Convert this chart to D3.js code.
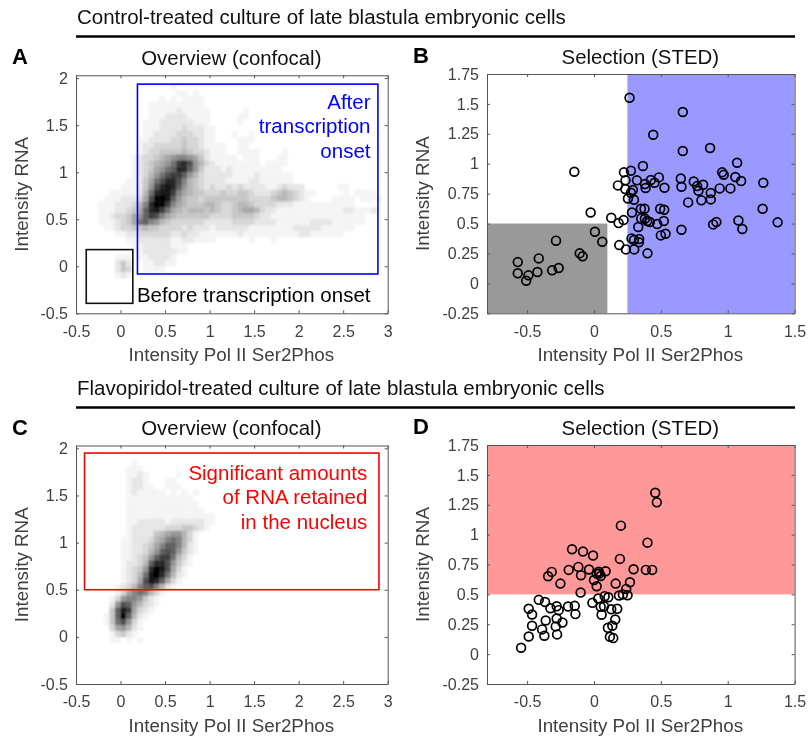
<!DOCTYPE html>
<html>
<head>
<meta charset="utf-8">
<script src="https://cdn.jsdelivr.net/npm/d3@7"></script>
<style>
  html, body { margin: 0; padding: 0; background: #fff; }
  svg { display: block; font-family: "Liberation Sans", Arial, sans-serif; filter: blur(0.3px); }
  .axis path, .axis line { stroke: #555; stroke-width: 1; }
  .axis text { font-size: 16px; fill: #404040; font-family: "Liberation Sans", Arial, sans-serif; }
  .ax-label { font-size: 18.8px; fill: #404040; text-anchor: middle; }
  .sub-title { font-size: 20.4px; fill: #111; text-anchor: middle; }
  .head { font-size: 20.5px; fill: #111; }
  .letter { font-size: 22px; font-weight: bold; fill: #000; }
</style>
</head>
<body>
<div id="chart"></div>
<script>
// heatmap rows, top row first. one char per bin, '.' = empty, f = black
const binSize = 0.0625;

const densityControl = [
  '',
  '.................1',
  '..................11.1',
  '...............1.1.1111',
  '.............1111111111',
  '.............11111211111......1',
  '.............11122221111.....11',
  '............111222222111.....1',
  '............1112222322211',
  '............1122223332211...1..1',
  '...........11222233433211....111',
  '...........1223333343321111..11',
  '...........1233444454332111..1111....1',
  '..........1233456788764211111.111...11',
  '..........12345679cdb753211111111.1111',
  '..........1234679adda7422212111111111',
  '..........123579bcca7532222211112111111',
  '.........112469bddb85432222111122111111',
  '........111247bdeda7543232232322221123222......11',
  '......11111259deec8654433343344322234543211.....1.1111',
  '.....11122236bffea754434444444433334554321....1111.1111',
  '....111222358dffc865444554334554333322211111111111',
  '....11122346adec96545554543345665322111111111111221112',
  '....11233467acb8654444443333444432211111111111111111',
  '....11123469a875433333322222333322221111112222111111',
  '.....112334454433332322212222221111111122222111111',
  '.......11223333332232211111112111111111122111111',
  '.........1122222211221111......1...1',
  '..........1122222111',
  '...........122222211',
  '.......111.1122221',
  '.......242..112211',
  '.......243..1111',
  '.......121',
  '',
  '',
  '',
  '',
  '',
  ''
];

const densityFlavo = [
  '',
  '',
  '..........1',
  '.........111',
  '.........1121.....1',
  '.........1221...11',
  '.........12211..111',
  '.........1211111.1.1.1',
  '.........111111111111',
  '.........1111111111111',
  '.........11111111111111',
  '.........1111111111111111',
  '.........1122222122222211',
  '.........122222233344321',
  '.........1222245677531',
  '........11222356898531',
  '........11223468aa8521',
  '........1122357aba7421',
  '........112347acc9531',
  '........12235addb7421',
  '........12347dfeb631',
  '........12359efd9521',
  '........1236beda631',
  '.......12358ab8521',
  '.......136898531',
  '......137887421',
  '......27ba75321',
  '......4aec6321',
  '.....14afa521',
  '.....149b731',
  '......367521',
  '......13421',
  '......11.1.1',
  '',
  '',
  '',
  '',
  '',
  '',
  ''
];

const selectionX_B = [0.266, 0.664, 0.443, 0.664, 0.868, 1.07, -0.147, 0.366, 0.276, 0.224, 0.236, 0.179, 0.234, 0.291, 0.276, 0.254, 0.299, 0.321, 0.381, 0.386, 0.425, 0.453, 0.485, 0.527, 0.649, 0.654, 0.746, 0.771, 0.816, 0.781, 0.873, 0.704, 0.803, 0.873, 0.94, 1.02, 0.958, 0.97, 1.057, 1.1, 1.266, 1.261, 1.373, 1.08, 1.109, 0.915, 0.891, 0.654, 0.495, 0.525, 0.351, 0.378, 0.284, -0.025, 0.129, 0.221, 0.184, 0.353, 0.381, 0.398, 0.418, 0.473, 0.522, 0.331, 0.5, 0.535, 0.281, 0.299, 0.338, 0.336, 0.189, 0.239, 0.301, 0.4, 0.007, 0.062, -0.284, -0.413, -0.57, -0.57, -0.49, -0.507, -0.423, -0.313, -0.264, -0.107, -0.085];
const selectionY_B = [1.552, 1.432, 1.242, 1.106, 1.131, 1.008, 0.933, 0.981, 0.942, 0.928, 0.861, 0.819, 0.788, 0.78, 0.758, 0.71, 0.699, 0.861, 0.83, 0.797, 0.864, 0.841, 0.886, 0.799, 0.877, 0.808, 0.852, 0.813, 0.825, 0.774, 0.755, 0.677, 0.694, 0.702, 0.794, 0.794, 0.928, 0.908, 0.889, 0.855, 0.841, 0.624, 0.51, 0.526, 0.454, 0.513, 0.493, 0.448, 0.624, 0.616, 0.624, 0.624, 0.593, 0.593, 0.549, 0.529, 0.504, 0.543, 0.54, 0.521, 0.513, 0.496, 0.521, 0.471, 0.401, 0.415, 0.376, 0.362, 0.37, 0.343, 0.32, 0.284, 0.284, 0.251, 0.432, 0.348, 0.357, 0.209, 0.178, 0.084, 0.067, 0.022, 0.095, 0.109, 0.128, 0.251, 0.226];

const selectionX_D = [0.458, 0.47, 0.201, 0.4, -0.164, -0.082, -0.007, 0.194, -0.316, -0.343, -0.251, -0.189, -0.117, -0.097, -0.037, -0.1, 0, 0.02, 0.035, 0.02, 0.05, 0.087, 0.04, 0.162, 0.296, 0.388, 0.435, 0.269, 0.241, 0.187, 0.216, 0.251, 0.08, 0.107, 0.032, -0.012, 0.05, 0.075, 0.057, 0.129, 0.174, 0.159, 0.137, 0.104, 0.119, 0.144, -0.413, -0.366, -0.488, -0.463, -0.326, -0.279, -0.264, -0.194, -0.144, -0.139, -0.361, -0.279, -0.236, -0.463, -0.286, -0.388, -0.371, -0.276, -0.488, -0.545];
const selectionY_D = [1.351, 1.27, 1.075, 0.933, 0.878, 0.858, 0.825, 0.797, 0.688, 0.652, 0.59, 0.705, 0.73, 0.66, 0.708, 0.515, 0.62, 0.674, 0.69, 0.568, 0.654, 0.694, 0.674, 0.59, 0.71, 0.705, 0.705, 0.602, 0.546, 0.49, 0.5, 0.493, 0.485, 0.476, 0.466, 0.429, 0.396, 0.4, 0.329, 0.376, 0.379, 0.29, 0.237, 0.22, 0.145, 0.134, 0.454, 0.436, 0.38, 0.332, 0.384, 0.4, 0.368, 0.398, 0.404, 0.335, 0.282, 0.298, 0.265, 0.237, 0.232, 0.207, 0.154, 0.165, 0.148, 0.053];

const overviewXTicks = [-0.5, 0, 0.5, 1, 1.5, 2, 2.5, 3];
const overviewYTicks = [-0.5, 0, 0.5, 1, 1.5, 2];
const selectionXTicks = [-0.5, 0, 0.5, 1, 1.5];
const selectionYTicks = [-0.25, 0, 0.25, 0.5, 0.75, 1, 1.25, 1.5, 1.75];

const xLabel = 'Intensity Pol II Ser2Phos';
const yLabel = 'Intensity RNA';

let svg = d3.select('#chart').append('svg').attr('width', 808).attr('height', 738);

let defs = svg.append('defs');
defs.append('filter')
  .attr('id', 'soft')
  .attr('x', '-5%').attr('y', '-5%').attr('width', '110%').attr('height', '110%')
  .append('feGaussianBlur')
  .attr('stdDeviation', 0.9);

function header(text, baseline) {
  svg.append('text').attr('class', 'head').attr('x', 77).attr('y', baseline).text(text);
  svg.append('line')
    .attr('x1', 76).attr('x2', 795)
    .attr('y1', baseline + 12.5).attr('y2', baseline + 12.5)
    .attr('stroke', '#000').attr('stroke-width', 2.6);
}

function makeAxes(g, x, y, xTicks, yTicks, width, height) {
  g.append('g').attr('class', 'axis')
    .attr('transform', `translate(0,${height})`)
    .call(d3.axisBottom(x).tickValues(xTicks).tickFormat(String).tickSizeInner(-3).tickSizeOuter(0).tickPadding(12));
  g.append('g').attr('class', 'axis')
    .call(d3.axisTop(x).tickValues(xTicks).tickFormat('').tickSizeInner(-3).tickSizeOuter(0));
  g.append('g').attr('class', 'axis')
    .call(d3.axisLeft(y).tickValues(yTicks).tickFormat(String).tickSizeInner(-3).tickSizeOuter(0).tickPadding(8));
  g.append('g').attr('class', 'axis')
    .attr('transform', `translate(${width},0)`)
    .call(d3.axisRight(y).tickValues(yTicks).tickFormat('').tickSizeInner(-3).tickSizeOuter(0));
}

function labels(p, title, letter) {
  svg.append('text').attr('class', 'letter').attr('x', p.letterX).attr('y', p.top - 11).text(letter);
  svg.append('text').attr('class', 'sub-title').attr('x', p.left + p.width / 2 - 0.5).attr('y', p.top - 10.5).text(title);
  svg.append('text').attr('class', 'ax-label').attr('x', p.left + p.width / 2 - 0.5).attr('y', p.top + p.height + 48).text(xLabel);
  svg.append('text').attr('class', 'ax-label')
    .attr('transform', `translate(${p.yLabelX},${p.top + p.height / 2}) rotate(-90)`)
    .text(yLabel);
}

function overview(p, rows, box) {
  let g = svg.append('g').attr('transform', `translate(${p.left},${p.top})`);
  let x = d3.scaleLinear().domain([-0.5, 3]).range([0, p.width]);
  let y = d3.scaleLinear().domain([-0.5, 2.03]).range([p.height, 0]);

  let cells = [];
  rows.forEach((row, r) => {
    row.split('').forEach((ch, c) => {
      if (ch !== '.') cells.push({ c: c, r: r, v: parseInt(ch, 16) });
    });
  });
  let shade = d3.scalePow().exponent(1.15).domain([0, 15]).range(['#ffffff', '#000000']);

  g.append('g')
    .attr('filter', 'url(#soft)')
    .selectAll('rect')
    .data(cells)
    .enter()
    .append('rect')
    .attr('x', (d) => x(-0.5 + d.c * binSize))
    .attr('y', (d) => y(2 - d.r * binSize))
    .attr('width', x(binSize) - x(0) + 0.3)
    .attr('height', y(0) - y(binSize) + 0.3)
    .attr('fill', (d) => shade(d.v));

  makeAxes(g, x, y, overviewXTicks, overviewYTicks, p.width, p.height);

  box.forEach((b) => {
    g.append('rect')
      .attr('x', x(b.x0))
      .attr('y', y(b.y1))
      .attr('width', x(b.x1) - x(b.x0))
      .attr('height', y(b.y0) - y(b.y1))
      .attr('fill', 'none')
      .attr('stroke', b.color)
      .attr('stroke-width', 1.6);
  });
}

function selection(p, xs, ys, zones) {
  let g = svg.append('g').attr('transform', `translate(${p.left},${p.top})`);
  let x = d3.scaleLinear().domain([-0.8, 1.5]).range([0, p.width]);
  let y = d3.scaleLinear().domain([-0.25, 1.75]).range([p.height, 0]);

  g.selectAll('rect.zone')
    .data(zones)
    .enter()
    .append('rect')
    .attr('class', 'zone')
    .attr('x', (d) => x(d.x0))
    .attr('y', (d) => y(d.y1))
    .attr('width', (d) => x(d.x1) - x(d.x0))
    .attr('height', (d) => y(d.y0) - y(d.y1))
    .attr('fill', (d) => d.color);

  makeAxes(g, x, y, selectionXTicks, selectionYTicks, p.width, p.height);

  g.selectAll('circle')
    .data(xs.map((v, i) => [v, ys[i]]))
    .enter()
    .append('circle')
    .attr('cx', (d) => x(d[0]))
    .attr('cy', (d) => y(d[1]))
    .attr('r', 4.4)
    .attr('fill', 'none')
    .attr('stroke', '#000')
    .attr('stroke-width', 1.7);
}

function note(lines, right, baselines, color) {
  lines.forEach((t, i) => {
    svg.append('text')
      .attr('x', right).attr('y', baselines[i])
      .attr('text-anchor', 'end')
      .attr('font-size', 20.5)
      .attr('fill', color)
      .text(t);
  });
}

header('Control-treated culture of late blastula embryonic cells', 24);
header('Flavopiridol-treated culture of late blastula embryonic cells', 395);

let panelA = { left: 76, top: 75.3, width: 311.7, height: 238, letterX: 12, yLabelX: 28 };
let panelB = { left: 487, top: 74, width: 307.6, height: 239.3, letterX: 413, yLabelX: 429 };
let panelC = { left: 76, top: 445.5, width: 311.7, height: 238.5, letterX: 12, yLabelX: 28 };
let panelD = { left: 487, top: 445, width: 307.6, height: 239, letterX: 413, yLabelX: 429 };

overview(panelA, densityControl, [
  { x0: 0.19, x1: 2.89, y0: -0.082, y1: 1.936, color: '#0000ff' },
  { x0: -0.385, x1: 0.138, y0: -0.394, y1: 0.177, color: '#111' }
]);
labels(panelA, 'Overview (confocal)', 'A');
note(['After', 'transcription', 'onset'], 370.5, [109, 133.3, 157.7], '#0000ff');
note(['Before transcription onset'], 370.5, [301.7], '#000');

selection(panelB, selectionX_B, selectionY_B, [
  { x0: -0.8, x1: 0.1, y0: -0.25, y1: 0.5, color: '#999999' },
  { x0: 0.25, x1: 1.5, y0: -0.25, y1: 1.75, color: '#9999ff' }
]);
labels(panelB, 'Selection (STED)', 'B');

overview(panelC, densityFlavo, [
  { x0: -0.404, x1: 2.902, y0: 0.5, y1: 1.95, color: '#ff0000' }
]);
labels(panelC, 'Overview (confocal)', 'C');
note(['Significant amounts', 'of RNA retained', 'in the nucleus'], 367.3, [480, 504.3, 529], '#ff0000');

selection(panelD, selectionX_D, selectionY_D, [
  { x0: -0.8, x1: 1.5, y0: 0.5, y1: 1.75, color: '#ff9999' }
]);
labels(panelD, 'Selection (STED)', 'D');
</script>
</body>
</html>
